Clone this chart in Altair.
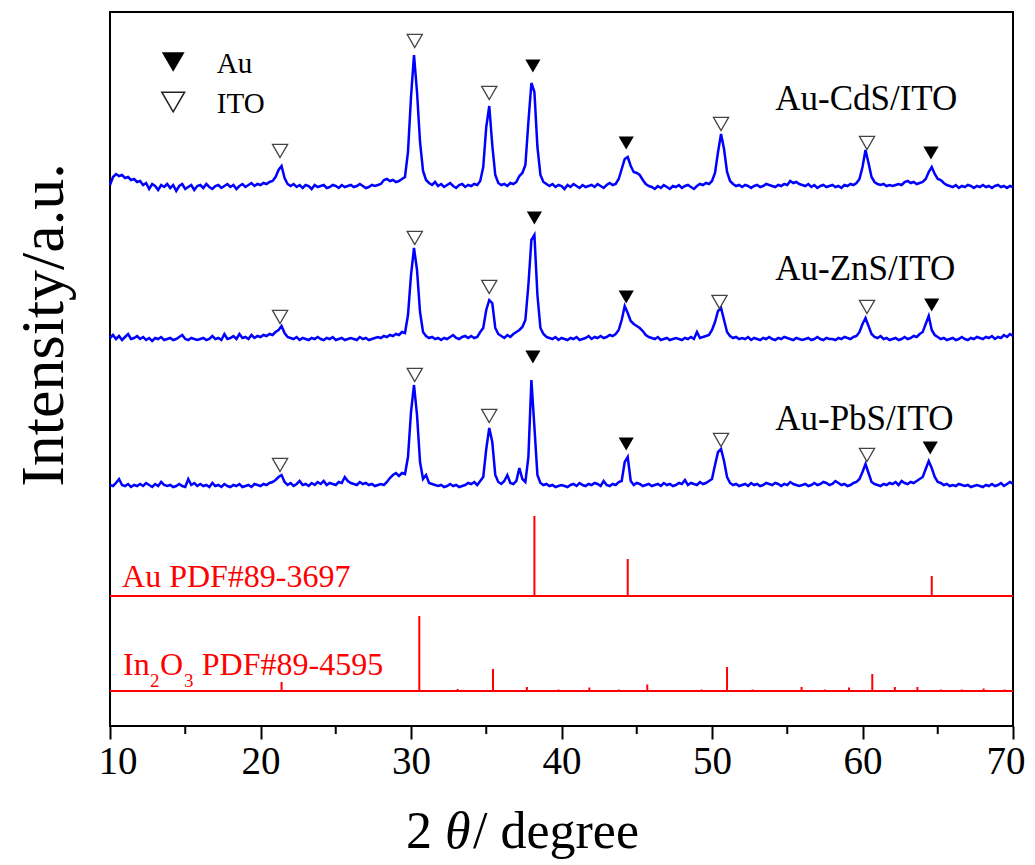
import altair as alt
import pandas as pd

# ---------------- data ----------------
X_START = 10.0
X_STEP = 0.2  # sampling of the digitised patterns (degrees)

# heights above each pattern's own baseline (a.u.), 10 values per 2 degrees
cds = [
    2, 10, 13, 11, 12, 9, 10, 7, 8, 5,
    6, 2, 4, -2, 3, 1, -3, 2, 0, 3,
    -1, 2, -4, 1, 3, -2, 0, 2, -3, 1,
    2, -1, 3, 0, -2, 1, 2, -1, 1, 3,
    0, 2, -2, 1, 3, 0, 2, 4, 1, 3,
    2, 4, 3, 5, 6, 10, 17, 21, 9, 3,
    1, 3, 0, 2, -1, 2, 1, -2, 2, 0,
    1, 2, -1, 0, 2, 1, -1, 2, 0, 1,
    2, 0, 1, 3, 1, -1, 0, 2, 1, 2,
    3, 7, 8, 6, 7, 5, 6, 8, 10, 35,
    90, 132, 95, 45, 16, 7, 4, 2, 5, 1,
    3, 0, 2, 4, 1, -1, 2, 3, 0, 2,
    1, 3, 2, 6, 20, 60, 81, 42, 12, 4,
    2, 3, 1, 4, 3, 5, 11, 14, 22, 65,
    104, 95, 40, 12, 5, 3, 1, 3, 0, 2,
    1, -2, 2, 0, 3, 1, -1, 2, 0, 1,
    2, 0, 3, 1, -1, 2, 4, 2, 3, 8,
    18, 28, 30, 21, 15, 14, 12, 7, 3, 1,
    0, -2, 1, -1, 2, 0, -2, 1, 0, 2,
    -1, 1, 2, 0, -2, 1, 3, 2, 4, 3,
    6, 14, 35, 53, 38, 15, 6, 3, 1, 2,
    0, 2, 1, -1, 1, 2, 0, 1, 3, 2,
    1, 0, 2, 1, 3, 2, 6, 4, 5, 3,
    2, 1, 3, 0, 2, -1, 1, 2, 0, 1,
    2, 0, 1, -1, 2, 1, 3, 2, 4, 8,
    20, 37, 24, 10, 5, 3, 2, 3, 1, 2,
    1, 2, 3, 2, 5, 6, 4, 5, 3, 4,
    5, 8, 15, 20, 13, 8, 7, 4, 2, 1,
    0, 2, -1, 1, 0, 2, 1, -1, 1, 0,
    2, 0, 1, -1, 1, 2, 0, 1, -1, 1,
    0,
]
zns = [
    2, 5, 1, 4, 0, 3, 6, 1, 2, 4,
    1, 3, 0, 2, -1, 2, 1, 3, 0, 1,
    2, 0, 1, 3, 5, 1, 0, 2, 1, 0,
    1, 2, 0, 1, 4, 1, 2, 0, 6, 1,
    2, 4, 1, 6, 2, 3, 1, 5, 2, 4,
    3, 5, 4, 6, 5, 8, 10, 14, 7, 3,
    2, 1, 3, 0, 2, 1, 0, 2, 1, 3,
    1, 0, 2, 1, 3, 0, 1, 2, 0, 1,
    2, 1, 0, 3, 1, 2, 0, 1, 2, 3,
    2, 4, 3, 5, 4, 6, 5, 8, 7, 25,
    65, 92, 70, 28, 8, 4, 2, 3, 1, 2,
    0, 2, 1, 3, 5, 2, 1, 3, 4, 2,
    4, 2, 3, 8, 12, 30, 40, 37, 12, 6,
    4, 2, 5, 3, 6, 8, 10, 13, 20, 55,
    100, 105, 45, 12, 6, 3, 2, 1, 3, 0,
    2, 1, 0, 2, 1, 3, 0, 1, 2, 4,
    1, 3, 2, 4, 2, 3, 5, 4, 6, 10,
    20, 34, 27, 19, 16, 14, 12, 9, 5, 3,
    2, 1, 3, 0, 1, 2, 0, 1, 2, 1,
    0, 2, 1, 3, 1, 8, 2, 3, 4, 5,
    10, 18, 29, 32, 20, 8, 4, 2, 3, 1,
    2, 1, 3, 0, 2, 1, 0, 2, 1, 3,
    1, 0, 2, 1, 3, 2, 1, 0, 2, 1,
    0, 1, 2, 0, 1, 3, 1, 0, 2, 1,
    1, 0, 2, 1, 3, 2, 1, 3, 4, 8,
    16, 22, 14, 6, 3, 2, 4, 1, 2, 0,
    1, 2, 0, 1, 3, 1, 2, 4, 3, 6,
    8, 16, 24, 10, 5, 3, 1, 2, 0, 1,
    2, 0, 1, 3, 1, 0, 2, 1, 3, 2,
    1, 3, 2, 4, 1, 3, 2, 5, 3, 6,
    4,
]
pbs = [
    2, 1, 4, 8, 2, 1, 3, 0, 2, 1,
    3, 1, 4, 2, 0, 3, 1, 5, 2, 1,
    2, 0, 1, 3, 1, 0, 8, 2, 4, 1,
    3, 1, 2, 0, 4, 1, 2, 0, 3, 1,
    0, 2, 1, 3, 0, 1, 2, 0, 3, 2,
    1, 3, 2, 4, 5, 7, 10, 12, 5, 2,
    4, 1, 3, 6, 2, 3, 1, 4, 2, 5,
    3, 6, 2, 4, 3, 2, 5, 4, 10, 6,
    4, 3, 2, 5, 3, 4, 2, 3, 1, 2,
    3, 2, 5, 9, 12, 14, 11, 14, 13, 30,
    75, 102, 72, 25, 8, 12, 4, 3, 2, 1,
    2, 0, 1, 3, 1, 2, 0, 1, 2, 4,
    3, 5, 2, 6, 10, 38, 59, 45, 12, 5,
    3, 6, 12, 4, 3, 6, 19, 8, 5, 30,
    107, 60, 12, 4, 2, 3, 1, 2, 0, 1,
    2, 1, 0, 2, 3, 1, 4, 2, 1, 3,
    2, 4, 3, 1, 6, 2, 1, 3, 2, 5,
    6, 25, 30, 6, 2, 4, 3, 1, 2, 3,
    1, 2, 3, 1, 4, 2, 3, 1, 2, 4,
    3, 7, 2, 4, 3, 2, 5, 3, 4, 6,
    8, 22, 35, 38, 26, 10, 4, 2, 3, 1,
    2, 3, 1, 4, 2, 3, 1, 2, 4, 3,
    2, 4, 3, 1, 3, 2, 5, 3, 2, 1,
    2, 3, 1, 2, 4, 2, 3, 5, 4, 2,
    3, 6, 4, 2, 3, 1, 2, 4, 5, 8,
    15, 23, 14, 5, 3, 2, 1, 3, 2, 4,
    3, 5, 2, 6, 4, 3, 5, 4, 6, 8,
    10, 18, 26, 19, 10, 5, 4, 2, 3, 1,
    2, 1, 3, 2, 1, 2, 0, 1, 2, 1,
    0, 2, 1, 3, 1, 2, 4, 1, 3, 5,
    3,
]
series_names = ["Au-CdS/ITO", "Au-ZnS/ITO", "Au-PbS/ITO"]
series_offsets = [539, 386, 239]  # vertical stacking of the patterns
series_values = [cds, zns, pbs]

# standard reference cards (stick patterns)
au_card_base = 130
au_card_pos = [38.2, 44.4, 64.6]
au_card_int = [80, 37, 20]
ito_card_base = 35
ito_card_pos = [21.4, 30.55, 33.1, 35.45, 37.7, 39.8, 41.85, 43.8, 45.7, 49.3, 51.0,
                52.7, 55.95, 57.5, 59.1, 60.65, 62.15, 63.65, 65.2, 66.6, 68.05, 69.45]
ito_card_int = [9, 75, 2, 22, 4, 1.5, 3.5, 1.5, 6.5, 1.5, 24,
                1.5, 4, 1.5, 3.5, 17, 4, 4, 1.5, 1.5, 2.5, 1.5]

# peak markers: (2theta, height of marker, phase)
marker_x = [21.3, 30.25, 35.2, 38.1, 44.3, 50.6, 60.3, 64.55,
            21.3, 30.25, 35.2, 38.2, 44.3, 50.5, 60.3, 64.6,
            21.3, 30.25, 35.2, 38.1, 44.3, 50.6, 60.3, 64.5]
marker_y = [575, 685, 633, 660, 583, 602, 583, 573,
            409, 488, 439, 508, 429, 424, 419, 421,
            261, 351, 310, 369, 282, 286, 271, 278]
marker_phase = ["ITO", "ITO", "ITO", "Au", "Au", "ITO", "ITO", "Au"] * 3

major_ticks = [10, 20, 30, 40, 50, 60, 70]
minor_ticks = [15, 25, 35, 45, 55, 65]

# ---------------- tables ----------------
rows = []
for name, off, vals in zip(series_names, series_offsets, series_values):
    for i, v in enumerate(vals):
        rows.append({"two_theta": round(X_START + X_STEP * i, 1), "intensity": off + v,
                     "series": name, "order": i})
patterns = pd.DataFrame(rows)

sticks = pd.DataFrame(
    [{"two_theta": p, "base": au_card_base, "top": au_card_base + h} for p, h in zip(au_card_pos, au_card_int)]
    + [{"two_theta": p, "base": ito_card_base, "top": ito_card_base + h} for p, h in zip(ito_card_pos, ito_card_int)]
)
baselines = pd.DataFrame({"x0": [10, 10], "x1": [70, 70], "y": [au_card_base, ito_card_base]})
markers = pd.DataFrame({"two_theta": marker_x, "intensity": marker_y, "phase": marker_phase})
au_markers = markers[markers.phase == "Au"]
ito_markers = markers[markers.phase == "ITO"]

legend_au = pd.DataFrame({"two_theta": [14.2], "intensity": [664]})
legend_ito = pd.DataFrame({"two_theta": [14.2], "intensity": [624]})
legend_txt = pd.DataFrame({"two_theta": [17.1, 17.1], "intensity": [653, 613], "text": ["Au", "ITO"]})
sample_txt = pd.DataFrame({"two_theta": [54.2, 54.2, 54.2], "intensity": [616, 446, 296],
                           "text": series_names})
card_txt = pd.DataFrame({"two_theta": [10.8, 10.87, 13.32, 16.1],
                         "intensity": [139, 51, 51, 51],
                         "text": ["Au PDF#89-3697", "In", "O", "PDF#89-4595"]})
card_sub = pd.DataFrame({"two_theta": [12.66, 14.92], "intensity": [39, 39], "text": ["2", "3"]})
minor_df = pd.DataFrame({"two_theta": minor_ticks})

# ---------------- chart ----------------
SERIF = "Liberation Serif"
xs = alt.Scale(domain=[10, 70], nice=False, zero=False)
ys = alt.Scale(domain=[0, 714], nice=False, zero=False)

x_axis = alt.Axis(
    values=major_ticks, tickSize=13,
    tickWidth=2, tickColor="black", domain=False, grid=False,
    labelFont=SERIF, labelFontSize=39, labelColor="black", labelPadding=3,
    labelOverlap=False, labelFlush=True, labelFlushOffset=12, title=None,
)

lines = alt.Chart(patterns).mark_line(color="#0000ff", strokeWidth=2.5).encode(
    x=alt.X("two_theta:Q", scale=xs, axis=x_axis),
    y=alt.Y("intensity:Q", scale=ys, axis=None),
    detail="series:N",
    order="order:Q",
)

minor = alt.Chart(minor_df).mark_rule(color="black", strokeWidth=2).encode(
    x=alt.X("two_theta:Q", scale=xs), y=alt.value(714), y2=alt.value(722)
)

base_rules = alt.Chart(baselines).mark_rule(color="#ff0000", strokeWidth=2).encode(
    x=alt.X("x0:Q", scale=xs), x2="x1:Q", y=alt.Y("y:Q", scale=ys)
)
stick_rules = alt.Chart(sticks).mark_rule(color="#ff0000", strokeWidth=2).encode(
    x=alt.X("two_theta:Q", scale=xs), y=alt.Y("base:Q", scale=ys), y2="top:Q"
)

au_marks = alt.Chart(au_markers).mark_point(
    shape="triangle-down", size=230, filled=True, color="black", opacity=1
).encode(x=alt.X("two_theta:Q", scale=xs), y=alt.Y("intensity:Q", scale=ys))
ito_marks = alt.Chart(ito_markers).mark_point(
    shape="triangle-down", size=230, filled=True, fill="white", stroke="#444444",
    strokeWidth=1.3, opacity=1
).encode(x=alt.X("two_theta:Q", scale=xs), y=alt.Y("intensity:Q", scale=ys))

leg_au = alt.Chart(legend_au).mark_point(
    shape="triangle-down", size=520, filled=True, color="black", opacity=1
).encode(x=alt.X("two_theta:Q", scale=xs), y=alt.Y("intensity:Q", scale=ys))
leg_ito = alt.Chart(legend_ito).mark_point(
    shape="triangle-down", size=520, filled=True, fill="white", stroke="#222222",
    strokeWidth=1.5, opacity=1
).encode(x=alt.X("two_theta:Q", scale=xs), y=alt.Y("intensity:Q", scale=ys))
leg_text = alt.Chart(legend_txt).mark_text(
    font=SERIF, fontSize=29, align="left", baseline="alphabetic", color="black"
).encode(x=alt.X("two_theta:Q", scale=xs), y=alt.Y("intensity:Q", scale=ys), text="text:N")

sample_text = alt.Chart(sample_txt).mark_text(
    font=SERIF, fontSize=35, align="left", baseline="alphabetic", color="black"
).encode(x=alt.X("two_theta:Q", scale=xs), y=alt.Y("intensity:Q", scale=ys), text="text:N")

card_text = alt.Chart(card_txt).mark_text(
    font=SERIF, fontSize=32, align="left", baseline="alphabetic", color="#ff0000"
).encode(x=alt.X("two_theta:Q", scale=xs), y=alt.Y("intensity:Q", scale=ys), text="text:N")
card_subs = alt.Chart(card_sub).mark_text(
    font=SERIF, fontSize=19, align="left", baseline="alphabetic", color="#ff0000"
).encode(x=alt.X("two_theta:Q", scale=xs), y=alt.Y("intensity:Q", scale=ys), text="text:N")

# axis titles
y_title = alt.Chart(pd.DataFrame({"t": ["Intensity/a.u."]})).mark_text(
    font=SERIF, fontSize=62, angle=270, align="center", baseline="middle", color="black"
).encode(x=alt.value(-66), y=alt.value(313), text="t:N")

xt1 = alt.Chart(pd.DataFrame({"t": ["2"]})).mark_text(
    font=SERIF, fontSize=52, align="left", baseline="alphabetic", color="black"
).encode(x=alt.value(296), y=alt.value(836), text="t:N")
xt2 = alt.Chart(pd.DataFrame({"t": ["θ"]})).mark_text(
    font=SERIF, fontSize=52, fontStyle="italic", align="left", baseline="alphabetic", color="black"
).encode(x=alt.value(335), y=alt.value(836), text="t:N")
xt3 = alt.Chart(pd.DataFrame({"t": ["/ degree"]})).mark_text(
    font=SERIF, fontSize=52, align="left", baseline="alphabetic", color="black"
).encode(x=alt.value(363), y=alt.value(836), text="t:N")

chart = alt.layer(
    lines, minor, base_rules, stick_rules, ito_marks, au_marks, leg_au, leg_ito, leg_text,
    sample_text, card_text, card_subs, y_title, xt1, xt2, xt3
).properties(
    width=903, height=714,
    autosize=alt.AutoSizeParams(type="none"),
    padding={"left": 102, "top": 4, "right": 14, "bottom": 139},
).configure(
    background="white"
).configure_view(
    stroke="black", strokeWidth=2
)

chart.save("out.html", embed_options={"renderer": "svg", "actions": False})
